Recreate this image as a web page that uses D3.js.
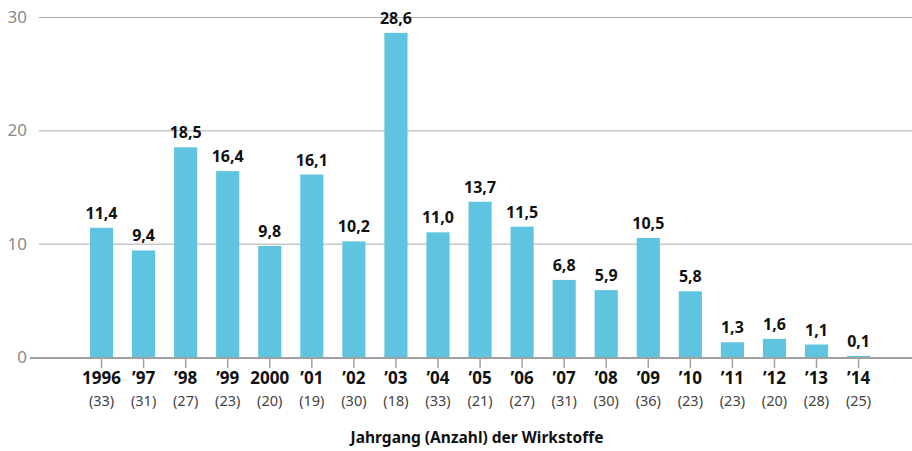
<!DOCTYPE html>
<html>
<head>
<meta charset="utf-8">
<script src="https://cdn.jsdelivr.net/npm/d3@7"></script>
<style>
  body { margin: 0; background: #fff; }
  svg { display: block; font-family: "Noto Sans", sans-serif; }
</style>
</head>
<body>
<script>
const years = ["1996", "\u201997", "\u201998", "\u201999", "2000", "\u201901", "\u201902", "\u201903", "\u201904",
               "\u201905", "\u201906", "\u201907", "\u201908", "\u201909", "\u201910", "\u201911", "\u201912", "\u201913", "\u201914"]
const counts = [33, 31, 27, 23, 20, 19, 30, 18, 33, 21, 27, 31, 30, 36, 23, 23, 20, 28, 25]
const values = [11.4, 9.4, 18.5, 16.4, 9.8, 16.1, 10.2, 28.6, 11.0, 13.7, 11.5, 6.8, 5.9, 10.5, 5.8, 1.3, 1.6, 1.1, 0.1]
const yTicks = [0, 10, 20, 30]

let w = 912
let h = 451

let svg = d3.select("body").append("svg")
            .attr("width", w)
            .attr("height", h)

let x = d3.scaleBand()
          .domain(years)
          .range([80.5, 879.6])
          .paddingInner(0.45)
          .paddingOuter(0.225)

let y = d3.scaleLinear()
          .domain([0, 30])
          .range([357, 17])

let fmt = (v) => v.toFixed(1).replace(".", ",")

// grid lines
svg.append("g")
    .selectAll("line")
    .data(yTicks.filter(d => d > 0))
    .enter()
    .append("line")
        .attr("x1", 39)
        .attr("x2", w)
        .attr("y1", d => y(d) + 0.5)
        .attr("y2", d => y(d) + 0.5)
        .attr("stroke", "#aaaaaa")
        .attr("stroke-width", 1)

// y labels
svg.append("g")
    .selectAll("text")
    .data(yTicks)
    .enter()
    .append("text")
        .attr("x", 27)
        .attr("y", d => y(d) + 6)
        .attr("text-anchor", "end")
        .attr("fill", "#8a8a8a")
        .style("font-size", "17px")
        .text(d => d)

// bars
svg.append("g")
    .selectAll("rect")
    .data(values)
    .enter()
    .append("rect")
        .attr("x", (d, i) => x(years[i]))
        .attr("width", x.bandwidth())
        .attr("y", d => y(d))
        .attr("height", d => y(0) - y(d))
        .attr("fill", "#5ec4df")

// value labels
svg.append("g")
    .selectAll("text")
    .data(values)
    .enter()
    .append("text")
        .attr("x", (d, i) => x(years[i]) + x.bandwidth() / 2)
        .attr("y", d => y(d) - 9)
        .attr("text-anchor", "middle")
        .attr("fill", "#111")
        .style("font-size", "16px")
        .style("font-weight", "bold")
        .text(d => fmt(d))

// baseline
svg.append("line")
    .attr("x1", 30)
    .attr("x2", w)
    .attr("y1", y(0) + 1)
    .attr("y2", y(0) + 1)
    .attr("stroke", "#a0a0a0")
    .attr("stroke-width", 2)

// ticks + x labels
let xg = svg.append("g")
            .selectAll("g")
            .data(years)
            .enter()
            .append("g")
            .attr("transform", d => "translate(" + (x(d) + x.bandwidth() / 2) + ",0)")

xg.append("line")
    .attr("y1", y(0) + 2)
    .attr("y2", y(0) + 11)
    .attr("stroke", "#a0a0a0")
    .attr("stroke-width", 1.5)

xg.append("text")
    .attr("y", 384)
    .attr("text-anchor", "middle")
    .attr("fill", "#111")
    .style("font-size", "17px")
    .style("font-weight", "bold")
    .text(d => d)

xg.append("text")
    .attr("y", 406)
    .attr("text-anchor", "middle")
    .attr("fill", "#444")
    .style("font-size", "14.5px")
    .text((d, i) => "(" + counts[i] + ")")

// axis title
svg.append("text")
    .attr("x", 477)
    .attr("y", 443)
    .attr("text-anchor", "middle")
    .attr("fill", "#111")
    .style("font-size", "15.5px")
    .style("font-weight", "bold")
    .text("Jahrgang (Anzahl) der Wirkstoffe")
</script>
</body>
</html>
